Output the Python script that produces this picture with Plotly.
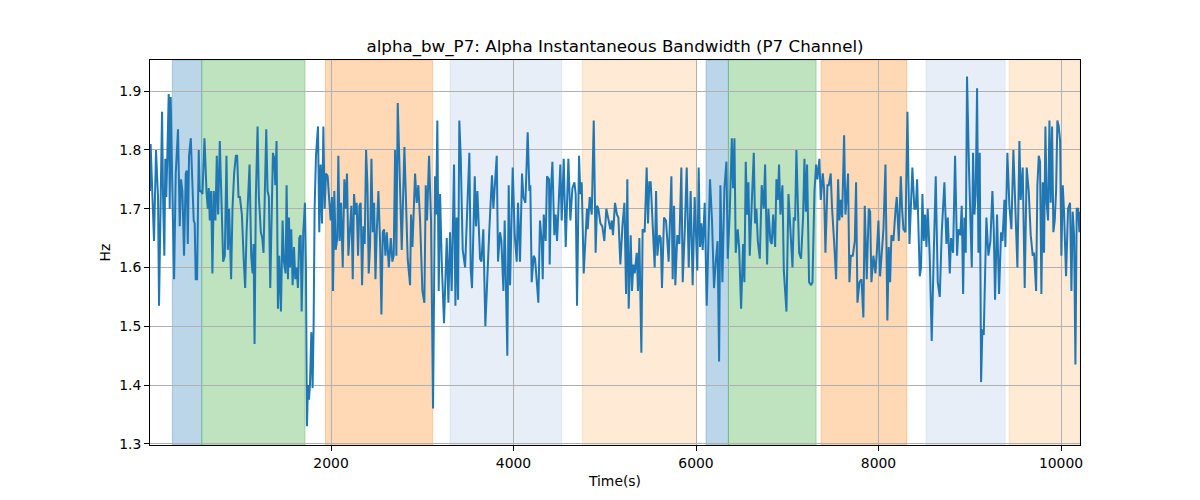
import plotly.graph_objects as go

# ---- data ----
time_s = [16, 23, 34, 60, 82, 104, 115, 133, 148, 159, 173, 184, 195, 206, 221, 232, 243, 261, 280, 298,
          323, 342, 356, 371, 389, 408, 419, 430, 444, 463, 481, 495, 506, 517, 532, 550, 561, 572, 591, 613,
          635, 649, 660, 671, 686, 700, 715, 733, 748, 763, 781, 799, 818, 836, 854, 869, 883, 905, 920, 938,
          957, 971, 986, 1001, 1023, 1044, 1059, 1074, 1092, 1107, 1125, 1140, 1151, 1162, 1176, 1195, 1209, 1231, 1246, 1260,
          1275, 1290, 1304, 1319, 1334, 1348, 1363, 1378, 1389, 1403, 1418, 1432, 1451, 1469, 1484, 1502, 1513, 1528, 1539, 1550,
          1564, 1579, 1594, 1608, 1623, 1637, 1652, 1667, 1678, 1696, 1714, 1725, 1736, 1747, 1758, 1769, 1784, 1798, 1809, 1820,
          1835, 1857, 1871, 1886, 1901, 1916, 1930, 1945, 1963, 1978, 1996, 2011, 2022, 2036, 2051, 2069, 2080, 2095, 2110, 2128,
          2146, 2161, 2175, 2190, 2205, 2223, 2238, 2252, 2267, 2281, 2296, 2311, 2325, 2340, 2355, 2369, 2384, 2399, 2413, 2428,
          2443, 2457, 2472, 2487, 2501, 2519, 2538, 2552, 2567, 2581, 2596, 2611, 2633, 2655, 2672, 2687, 2702, 2716, 2731, 2760,
          2775, 2804, 2826, 2840, 2866, 2877, 2892, 2921, 2939, 2957, 2976, 3001, 3023, 3038, 3052, 3074, 3096, 3118, 3140, 3151,
          3165, 3180, 3195, 3213, 3238, 3268, 3286, 3304, 3322, 3348, 3363, 3377, 3392, 3406, 3421, 3443, 3469, 3494, 3516, 3531,
          3545, 3575, 3589, 3604, 3633, 3648, 3669, 3691, 3713, 3735, 3764, 3779, 3816, 3830, 3852, 3867, 3889, 3903, 3932, 3947,
          3962, 3991, 4013, 4035, 4049, 4071, 4093, 4108, 4130, 4155, 4174, 4184, 4199, 4221, 4236, 4254, 4272, 4290, 4309, 4320,
          4331, 4352, 4367, 4389, 4396, 4411, 4426, 4447, 4462, 4477, 4491, 4513, 4528, 4550, 4572, 4601, 4623, 4645, 4667, 4681,
          4696, 4718, 4732, 4747, 4769, 4784, 4805, 4813, 4835, 4857, 4879, 4900, 4915, 4930, 4952, 4973, 4995, 5017, 5039, 5061,
          5076, 5090, 5112, 5134, 5149, 5171, 5193, 5215, 5233, 5247, 5262, 5284, 5298, 5313, 5328, 5350, 5364, 5379, 5401, 5415,
          5437, 5459, 5474, 5488, 5503, 5525, 5547, 5562, 5576, 5598, 5613, 5627, 5649, 5671, 5700, 5730, 5744, 5759, 5773, 5795,
          5817, 5839, 5854, 5876, 5898, 5920, 5941, 5963, 5985, 6014, 6029, 6044, 6058, 6073, 6095, 6117, 6139, 6153, 6175, 6197,
          6219, 6236, 6253, 6267, 6289, 6311, 6333, 6348, 6370, 6392, 6406, 6421, 6435, 6457, 6472, 6494, 6516, 6530, 6545, 6560,
          6574, 6589, 6611, 6633, 6647, 6662, 6677, 6699, 6720, 6742, 6757, 6779, 6793, 6815, 6830, 6845, 6867, 6881, 6896, 6910,
          6925, 6947, 6962, 6991, 7013, 7035, 7057, 7071, 7086, 7100, 7115, 7130, 7151, 7173, 7188, 7203, 7217, 7239, 7261, 7276,
          7298, 7316, 7330, 7352, 7367, 7389, 7403, 7418, 7440, 7455, 7476, 7491, 7513, 7535, 7557, 7571, 7586, 7601, 7623, 7637,
          7652, 7666, 7681, 7696, 7718, 7740, 7754, 7769, 7791, 7813, 7834, 7849, 7871, 7893, 7908, 7922, 7944, 7966, 7981, 7999,
          8017, 8032, 8054, 8076, 8097, 8112, 8127, 8141, 8163, 8185, 8200, 8222, 8244, 8258, 8273, 8295, 8317, 8339, 8371, 8393,
          8408, 8423, 8437, 8452, 8466, 8481, 8496, 8510, 8525, 8539, 8561, 8583, 8605, 8627, 8649, 8671, 8693, 8722, 8744, 8759,
          8781, 8795, 8817, 8839, 8861, 8875, 8897, 8912, 8927, 8941, 8956, 8970, 8992, 9007, 9022, 9036, 9051, 9065, 9080, 9095,
          9109, 9124, 9138, 9153, 9168, 9182, 9204, 9226, 9248, 9263, 9277, 9299, 9321, 9343, 9358, 9380, 9390, 9412, 9434, 9456,
          9478, 9500, 9522, 9544, 9558, 9580, 9602, 9624, 9646, 9668, 9690, 9705, 9727, 9741, 9756, 9770, 9785, 9800, 9814, 9829,
          9843, 9858, 9873, 9887, 9902, 9916, 9931, 9946, 9960, 9975, 9990, 10004, 10019, 10033, 10055, 10077, 10099, 10114, 10128, 10143,
          10158, 10172, 10187, 10201, 10208]

alpha_bw = [1.73, 1.81, 1.76, 1.645, 1.80, 1.72, 1.535, 1.76, 1.865, 1.72, 1.62, 1.785, 1.72, 1.79, 1.895, 1.70, 1.89, 1.73, 1.58, 1.76,
            1.835, 1.67, 1.75, 1.73, 1.62, 1.76, 1.765, 1.64, 1.79, 1.82, 1.73, 1.68, 1.675, 1.58, 1.58, 1.80, 1.73, 1.73, 1.725, 1.82,
            1.73, 1.70, 1.735, 1.68, 1.73, 1.59, 1.73, 1.68, 1.79, 1.69, 1.815, 1.70, 1.61, 1.62, 1.79, 1.63, 1.70, 1.58, 1.70, 1.76,
            1.79, 1.79, 1.72, 1.72, 1.69, 1.61, 1.565, 1.66, 1.715, 1.775, 1.62, 1.59, 1.64, 1.47, 1.72, 1.84, 1.72, 1.66, 1.65, 1.625,
            1.73, 1.835, 1.73, 1.72, 1.565, 1.66, 1.795, 1.785, 1.74, 1.815, 1.53, 1.62, 1.525, 1.68, 1.61, 1.59, 1.74, 1.58, 1.685, 1.60,
            1.665, 1.57, 1.635, 1.58, 1.60, 1.565, 1.65, 1.655, 1.525, 1.66, 1.71, 1.60, 1.33, 1.40, 1.375, 1.40, 1.49, 1.395, 1.50, 1.70,
            1.79, 1.84, 1.66, 1.775, 1.675, 1.84, 1.70, 1.76, 1.755, 1.72, 1.68, 1.72, 1.56, 1.73, 1.63, 1.65, 1.79, 1.645, 1.71, 1.60,
            1.75, 1.70, 1.76, 1.62, 1.66, 1.705, 1.58, 1.725, 1.69, 1.71, 1.62, 1.705, 1.71, 1.57, 1.67, 1.64, 1.80, 1.74, 1.59, 1.64,
            1.785, 1.66, 1.71, 1.58, 1.66, 1.73, 1.64, 1.52, 1.66, 1.665, 1.62, 1.66, 1.60, 1.65, 1.61, 1.62, 1.80, 1.62, 1.88, 1.69,
            1.63, 1.805, 1.67, 1.615, 1.57, 1.69, 1.635, 1.76, 1.71, 1.74, 1.68, 1.56, 1.54, 1.74, 1.68, 1.79, 1.68, 1.36, 1.755, 1.69,
            1.85, 1.56, 1.725, 1.61, 1.505, 1.65, 1.54, 1.66, 1.56, 1.775, 1.535, 1.685, 1.545, 1.85, 1.79, 1.63, 1.60, 1.70, 1.795, 1.595,
            1.565, 1.755, 1.67, 1.73, 1.615, 1.61, 1.665, 1.50, 1.60, 1.665, 1.757, 1.70, 1.79, 1.61, 1.66, 1.645, 1.56, 1.68, 1.45, 1.74,
            1.57, 1.77, 1.655, 1.61, 1.71, 1.61, 1.76, 1.72, 1.71, 1.83, 1.73, 1.74, 1.575, 1.62, 1.615, 1.575, 1.54, 1.68, 1.645, 1.58,
            1.69, 1.645, 1.755, 1.75, 1.605, 1.735, 1.78, 1.655, 1.69, 1.645, 1.69, 1.775, 1.68, 1.785, 1.635, 1.785, 1.68, 1.735, 1.745, 1.725,
            1.535, 1.79, 1.725, 1.745, 1.59, 1.635, 1.70, 1.665, 1.72, 1.69, 1.85, 1.625, 1.705, 1.70, 1.675, 1.67, 1.645, 1.70, 1.685, 1.665,
            1.68, 1.655, 1.71, 1.69, 1.685, 1.605, 1.67, 1.71, 1.555, 1.75, 1.53, 1.655, 1.56, 1.605, 1.59, 1.625, 1.56, 1.65, 1.455, 1.665,
            1.66, 1.77, 1.675, 1.745, 1.745, 1.68, 1.60, 1.73, 1.62, 1.655, 1.65, 1.565, 1.685, 1.68, 1.61, 1.755, 1.58, 1.705, 1.57, 1.655,
            1.64, 1.77, 1.575, 1.66, 1.77, 1.60, 1.73, 1.57, 1.72, 1.595, 1.77, 1.635, 1.675, 1.63, 1.71, 1.535, 1.675, 1.75, 1.68, 1.565,
            1.615, 1.645, 1.44, 1.74, 1.575, 1.735, 1.78, 1.615, 1.695, 1.82, 1.735, 1.82, 1.625, 1.665, 1.635, 1.53, 1.64, 1.575, 1.78, 1.69,
            1.745, 1.62, 1.71, 1.795, 1.675, 1.70, 1.645, 1.615, 1.74, 1.70, 1.775, 1.605, 1.70, 1.645, 1.64, 1.69, 1.635, 1.75, 1.715, 1.775,
            1.69, 1.74, 1.595, 1.525, 1.725, 1.66, 1.60, 1.685, 1.68, 1.80, 1.695, 1.625, 1.615, 1.685, 1.785, 1.695, 1.775, 1.575, 1.57, 1.575,
            1.73, 1.775, 1.75, 1.785, 1.715, 1.76, 1.735, 1.625, 1.74, 1.74, 1.76, 1.70, 1.645, 1.58, 1.75, 1.68, 1.715, 1.685, 1.825, 1.69,
            1.72, 1.76, 1.575, 1.62, 1.62, 1.645, 1.745, 1.54, 1.575, 1.58, 1.515, 1.705, 1.58, 1.70, 1.695, 1.575, 1.62, 1.59, 1.625, 1.68,
            1.585, 1.615, 1.665, 1.775, 1.51, 1.635, 1.575, 1.655, 1.645, 1.695, 1.72, 1.645, 1.755, 1.70, 1.665, 1.66, 1.865, 1.64, 1.77, 1.70,
            1.70, 1.75, 1.655, 1.585, 1.60, 1.725, 1.645, 1.69, 1.635, 1.70, 1.62, 1.475, 1.62, 1.755, 1.575, 1.55, 1.66, 1.745, 1.64, 1.685,
            1.59, 1.65, 1.625, 1.79, 1.62, 1.665, 1.655, 1.705, 1.555, 1.685, 1.625, 1.925, 1.765, 1.695, 1.60, 1.795, 1.69, 1.725, 1.905, 1.625,
            1.795, 1.405, 1.495, 1.485, 1.595, 1.685, 1.62, 1.645, 1.73, 1.665, 1.545, 1.69, 1.555, 1.66, 1.645, 1.715, 1.635, 1.795, 1.705, 1.665,
            1.80, 1.705, 1.60, 1.815, 1.715, 1.77, 1.565, 1.77, 1.73, 1.655, 1.62, 1.625, 1.56, 1.74, 1.79, 1.78, 1.555, 1.745, 1.625, 1.84,
            1.71, 1.68, 1.85, 1.71, 1.84, 1.66, 1.68, 1.73, 1.85, 1.84, 1.815, 1.62, 1.74, 1.695, 1.585, 1.70, 1.71, 1.56, 1.695, 1.655,
            1.435, 1.70, 1.70, 1.66, 1.695]

span_start = [261, 583, 1938, 3304, 4754, 6110, 6355, 7371, 8521, 9431]
span_end = [583, 1715, 3114, 4528, 6005, 6355, 7316, 8310, 9387, 10208]
span_kind = ["blue", "green", "orange", "lightblue", "lightorange",
             "blue", "green", "orange", "lightblue", "lightorange"]

x_ticks = [2000, 4000, 6000, 8000, 10000]
y_ticks = [1.3, 1.4, 1.5, 1.6, 1.7, 1.8, 1.9]

title_text = "alpha_bw_P7: Alpha Instantaneous Bandwidth (P7 Channel)"
x_label = "Time(s)"
y_label = "Hz"

# ---- styling ----
kind_rgb = {
    "blue": (31, 119, 180, 0.3),
    "green": (44, 160, 44, 0.3),
    "orange": (255, 127, 14, 0.3),
    "lightblue": (174, 199, 232, 0.3),
    "lightorange": (255, 187, 120, 0.3),
}

FONT = "DejaVu Sans"

fig = go.Figure()
fig.add_trace(go.Scatter(x=time_s, y=alpha_bw, mode="lines",
                         line=dict(color="#1f77b4", width=2), showlegend=False))

for s, e, k in zip(span_start, span_end, span_kind):
    r, g, b, a = kind_rgb[k]
    fig.add_shape(type="rect", xref="x", yref="paper", x0=s, x1=e, y0=0, y1=1,
                  fillcolor=f"rgba({r},{g},{b},{a})",
                  line=dict(color=f"rgba({r},{g},{b},{a})", width=1),
                  layer="below")

fig.update_layout(
    width=1200, height=500,
    margin=dict(l=150, r=120, t=60, b=55),
    paper_bgcolor="white", plot_bgcolor="white",
    font=dict(family=FONT, size=13.9, color="black"),
    title=dict(text=title_text, x=615 / 1200, xanchor="center",
               y=1 - 46 / 500, yanchor="middle", yref="container",
               font=dict(family=FONT, size=16.7, color="black")),
)
fig.update_xaxes(range=[16, 10208], tickvals=x_ticks, ticktext=[str(v) for v in x_ticks],
                 showgrid=True, gridcolor="#b0b0b0", gridwidth=0.8,
                 showline=True, linecolor="black", linewidth=1, mirror=True,
                 ticks="outside", ticklen=5, tickcolor="black", zeroline=False,
                 title=dict(text=x_label, standoff=6, font=dict(size=13.9)))
fig.update_yaxes(range=[1.298, 1.953], tickvals=y_ticks, ticktext=[f"{v:.1f}" for v in y_ticks],
                 showgrid=True, gridcolor="#b0b0b0", gridwidth=0.8,
                 showline=True, linecolor="black", linewidth=1, mirror=True,
                 ticks="outside", ticklen=5, tickcolor="black", zeroline=False,
                 title=dict(text=y_label, standoff=5, font=dict(size=13.9)))

fig.write_html("out.html", config={"displayModeBar": False},
               post_script="document.body.style.margin='0';")
